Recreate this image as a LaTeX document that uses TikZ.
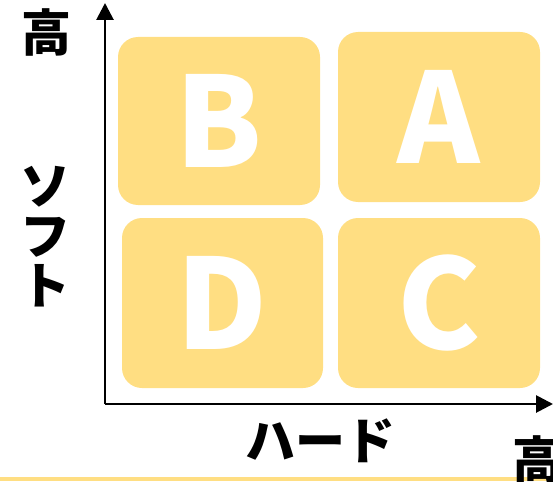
\documentclass[tikz,border=0pt]{standalone}
\usepackage{fontspec}
\newfontfamily\jpfont{Noto Sans CJK JP}
\usetikzlibrary{positioning,arrows.meta}
\definecolor{cellyellow}{HTML}{FFDE82}
\tikzset{
  cell/.style ={rectangle, rounded corners=20pt, fill=cellyellow, text=white,
                inner sep=0pt, font=\jpfont\bfseries\fontsize{125}{125}\selectfont},
  axis/.style ={-{Triangle[length=17pt,width=17pt]}, line width=2.8pt},
  lbl/.style  ={font=\jpfont\bfseries\fontsize{50}{50}\selectfont,
                inner sep=0pt, align=center}
}
\begin{document}
\begin{tikzpicture}[x=1pt,y=-1pt]
\useasboundingbox (0,0) rectangle (553,481);

%% ---- bottom band ---------------------------------------------------
\fill[cellyellow] (0,476.5) rectangle (553,481);

%% ---- cells ---------------------------------------------------------
\node[cell, minimum width=202pt, minimum height=168pt] (B) at (219,121) {B};
\node[cell, minimum width=202pt, minimum height=170pt] (A) at (439,117) {A};
\node[cell, minimum width=201pt, minimum height=170pt] (D) at (222.5,303) {D};
\node[cell, minimum width=202pt, minimum height=170pt] (C) at (439,303) {C};

%% ---- axes ----------------------------------------------------------
\coordinate (origin) at (105,404);
\coordinate (ytop) at (105,3);
\coordinate (xend) at (553,404);
\draw[axis] (origin) -- (ytop);
\draw[axis] (origin) -- (xend);

%% ---- labels --------------------------------------------------------
\node[lbl] (yhigh) at (46,32) {高};
\node[lbl] (ysoft) at (45,237) {ソ\\フ\\ト};
\node[lbl] (xhard) at (320,441) {ハード};
\node[lbl] (xhigh) at (537,459) {高};
\end{tikzpicture}
\end{document}
